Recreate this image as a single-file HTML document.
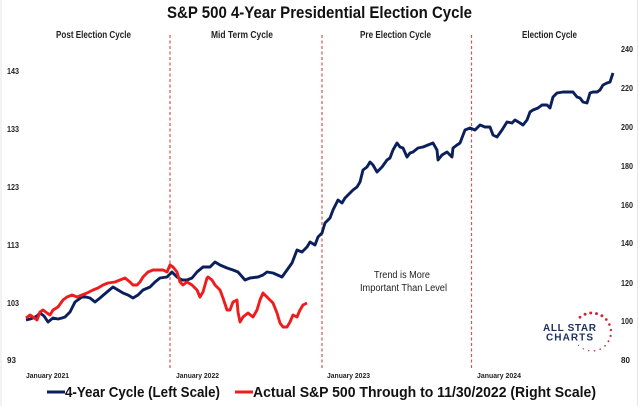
<!DOCTYPE html>
<html><head><meta charset="utf-8"><style>
html,body{margin:0;padding:0;background:#fff;}
svg{display:block;}
text{font-family:"Liberation Sans",sans-serif;}
</style></head><body>
<svg width="640" height="406" viewBox="0 0 640 406" xmlns="http://www.w3.org/2000/svg">
<rect x="0" y="0" width="640" height="406" fill="#fff"/>
<line x1="1" y1="0" x2="1" y2="406" stroke="#e6e6e6" stroke-width="1"/>
<line x1="637.5" y1="0" x2="637.5" y2="406" stroke="#e6e6e6" stroke-width="1"/>

<text x="167" y="18" font-size="17" font-weight="bold" fill="#111" textLength="305" lengthAdjust="spacingAndGlyphs">S&amp;P 500 4-Year Presidential Election Cycle</text>

<g font-size="10" font-weight="bold" fill="#222">
<text x="56" y="38" textLength="75" lengthAdjust="spacingAndGlyphs">Post Election Cycle</text>
<text x="211" y="38" textLength="62" lengthAdjust="spacingAndGlyphs">Mid Term Cycle</text>
<text x="360" y="38" textLength="71" lengthAdjust="spacingAndGlyphs">Pre Election Cycle</text>
<text x="522" y="38" textLength="55" lengthAdjust="spacingAndGlyphs">Election Cycle</text>
</g>

<g stroke="#d9534f" stroke-width="1.2" stroke-dasharray="3,2.5">
<line x1="170" y1="35" x2="170" y2="368"/>
<line x1="322" y1="35" x2="322" y2="368"/>
<line x1="471.5" y1="35" x2="471.5" y2="368"/>
</g>

<g font-size="8.5" font-weight="bold" fill="#222">
<text x="7" y="74" textLength="12" lengthAdjust="spacingAndGlyphs">143</text>
<text x="7" y="132" textLength="12" lengthAdjust="spacingAndGlyphs">133</text>
<text x="7" y="190" textLength="12" lengthAdjust="spacingAndGlyphs">123</text>
<text x="7" y="248" textLength="12" lengthAdjust="spacingAndGlyphs">113</text>
<text x="7" y="306" textLength="12" lengthAdjust="spacingAndGlyphs">103</text>
<text x="7" y="363" textLength="9" lengthAdjust="spacingAndGlyphs">93</text>
</g>
<g font-size="8.5" font-weight="bold" fill="#222">
<text x="621" y="52" textLength="12" lengthAdjust="spacingAndGlyphs">240</text>
<text x="621" y="91" textLength="12" lengthAdjust="spacingAndGlyphs">220</text>
<text x="621" y="130" textLength="12" lengthAdjust="spacingAndGlyphs">200</text>
<text x="621" y="169" textLength="12" lengthAdjust="spacingAndGlyphs">180</text>
<text x="621" y="208" textLength="12" lengthAdjust="spacingAndGlyphs">160</text>
<text x="621" y="246" textLength="12" lengthAdjust="spacingAndGlyphs">140</text>
<text x="621" y="286" textLength="12" lengthAdjust="spacingAndGlyphs">120</text>
<text x="621" y="324" textLength="12" lengthAdjust="spacingAndGlyphs">100</text>
<text x="621" y="363" textLength="9" lengthAdjust="spacingAndGlyphs">80</text>
</g>

<g font-size="7.5" font-weight="bold" fill="#222">
<text x="26" y="378" textLength="43" lengthAdjust="spacingAndGlyphs">January 2021</text>
<text x="176" y="378" textLength="43" lengthAdjust="spacingAndGlyphs">January 2022</text>
<text x="327" y="378" textLength="43" lengthAdjust="spacingAndGlyphs">January 2023</text>
<text x="477" y="378" textLength="44" lengthAdjust="spacingAndGlyphs">January 2024</text>
</g>

<g font-size="10" fill="#222">
<text x="374" y="278" textLength="56" lengthAdjust="spacingAndGlyphs">Trend is More</text>
<text x="360" y="291" textLength="87" lengthAdjust="spacingAndGlyphs">Important Than Level</text>
</g>

<!-- logo -->
<g font-size="10" font-weight="bold" fill="#1c3160">
<text x="543" y="331" textLength="53" lengthAdjust="spacing">ALL STAR</text>
<text x="546" y="340.5" textLength="47" lengthAdjust="spacing">CHARTS</text>
</g>
<g fill="#d0283a">
<circle cx="580" cy="317.2" r="1.4"/>
<circle cx="585.1" cy="314.3" r="1.5"/>
<circle cx="590.7" cy="313" r="1.5"/>
<circle cx="596.5" cy="313.6" r="1.5"/>
<circle cx="601.9" cy="315.8" r="1.5"/>
<circle cx="606.3" cy="319.5" r="1.4"/>
<circle cx="609.4" cy="324.5" r="1.3"/>
<circle cx="610.9" cy="330.1" r="1.2"/>
<circle cx="610.6" cy="335.9" r="1.1"/>
<circle cx="608.5" cy="341.3" r="1"/>
<circle cx="605" cy="345.9" r="0.9"/>
<circle cx="600.2" cy="349.2" r="0.8"/>
<circle cx="594.6" cy="350.8" r="0.8"/>
<circle cx="588.8" cy="350.7" r="0.7"/>
<circle cx="583.3" cy="348.9" r="0.7"/>
<circle cx="578.6" cy="345.4" r="0.6"/>
</g>

<!-- blue series -->
<polyline fill="none" stroke="#0b1f5c" stroke-width="2.9" stroke-linejoin="round" points="26,320 30,319 33,318 37,316 40,313 44,316 48,322 53,318 58,319 62,318 65,317 70,312 75,302 82,297 86,297 90,298 95,302 100,298 107,292 113,287 118,290 123,293 128,295 133,298 138,295 143,290 150,287 155,282 160,278 167,277 172,272 177,277 182,280 187,280 192,278 197,272 203,267 210,267 215,262 220,265 227,268 233,270 238,272 245,280 250,278 258,277 263,275 267,272 273,273 282,277 287,270 292,263 297,250 302,252 307,247 310,242 315,245 318,237 322,233 325,223 330,218 333,210 338,200 342,203 345,198 350,193 353,190 357,187 360,182 363,170 367,167 370,162 373,165 377,172 382,167 387,160 390,158 393,150 397,143 400,147 403,148 407,157 410,153 413,152 418,148 423,147 428,145 433,143 437,150 438,160 442,155 447,152 452,157 453,148 457,145 460,143 465,130 470,128 475,130 480,125 485,127 490,127 493,135 497,137 502,130 507,122 512,123 515,120 520,123 523,125 527,120 530,112 533,110 538,108 542,105 547,105 550,108 553,97 557,93 563,92 570,92 573,92 577,97 580,98 583,102 587,103 590,93 593,92 597,92 600,90 603,85 607,83 610,82 613,73"/>

<!-- red series -->
<polyline fill="none" stroke="#ee1c1c" stroke-width="2.9" stroke-linejoin="round" points="26,318 30,315 33,317 37,320 40,312 43,310 47,313 50,315 53,310 58,307 63,300 67,297 72,295 77,297 82,295 87,293 93,290 98,288 103,285 108,283 115,282 120,280 125,278 130,282 133,285 137,285 140,282 143,277 148,272 153,270 158,270 163,270 167,272 170,265 173,267 177,272 180,282 183,285 187,282 192,285 197,290 200,297 203,292 207,278 208,277 212,280 215,285 220,290 223,298 227,310 230,310 233,302 237,300 238,312 240,322 243,317 248,313 253,317 257,310 260,300 263,293 267,297 270,300 273,303 277,313 280,323 283,327 287,327 290,322 293,315 297,317 300,310 303,305 307,303"/>

<!-- legend -->
<line x1="47" y1="392" x2="65" y2="392" stroke="#0b1f5c" stroke-width="3"/>
<text x="65" y="397" font-size="15" font-weight="bold" fill="#111" textLength="155" lengthAdjust="spacingAndGlyphs">4-Year Cycle (Left Scale)</text>
<line x1="235" y1="392" x2="253" y2="392" stroke="#ee1c1c" stroke-width="3"/>
<text x="253" y="397" font-size="15" font-weight="bold" fill="#111" textLength="343" lengthAdjust="spacingAndGlyphs">Actual S&amp;P 500 Through to 11/30/2022 (Right Scale)</text>
</svg>
</body></html>
